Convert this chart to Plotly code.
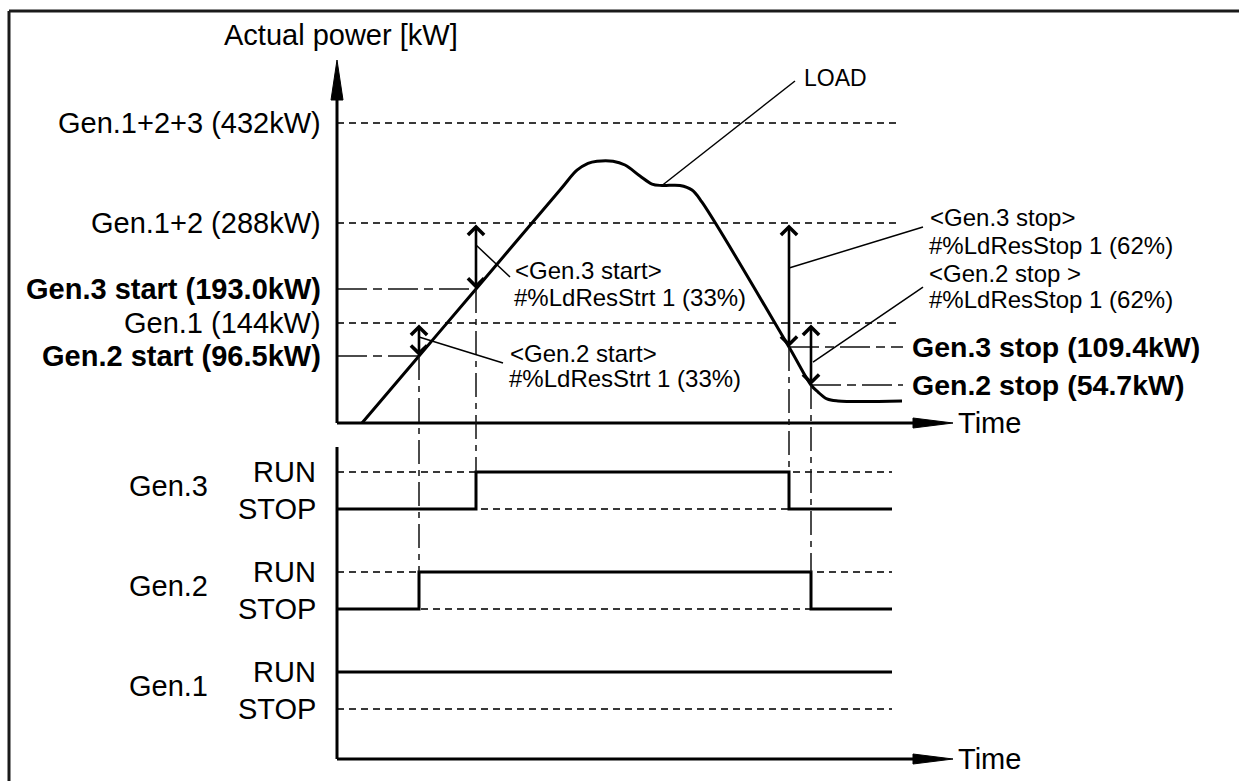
import numpy as np
import plotly.graph_objects as go

# ---------------- data ----------------
# Load profile (time in arbitrary units, power in kW)
load_t = [2.5, 8.2, 13.9, 22.3, 24.0, 25.1, 26.0, 27.6, 28.8, 30.3, 31.5, 32.5,
          34.3, 35.5, 36.5, 45.2, 47.4, 48.1, 49.0, 50.1, 56.5]
load_kw = [0, 96.5, 193.0, 335.5, 364, 374, 377, 377, 371.5, 355.7, 344, 342,
           342, 335.5, 318, 109.4, 54.7, 44.6, 34.6, 31.7, 31.7]

# Nominal capacity of the running set
capacity_kw = [144, 288, 432]
capacity_labels = ["Gen.1 (144kW)", "Gen.1+2 (288kW)", "Gen.1+2+3 (432kW)"]

# Start / stop thresholds
start_kw = [96.5, 193.0]            # Gen.2, Gen.3
start_labels = ["Gen.2 start (96.5kW)", "Gen.3 start (193.0kW)"]
stop_kw = [109.4, 54.7]             # Gen.3, Gen.2
stop_labels = ["Gen.3 stop (109.4kW)", "Gen.2 stop (54.7kW)"]

gen_names = ["Gen.1", "Gen.2", "Gen.3"]
state_labels = ["RUN", "STOP"]

T_END = 55.5      # end of the status / reference lines
T_TIP = 61.6      # tip of the time arrows

# ---------------- geometry ----------------
W, H = 1239, 781
X0_PX, PX_PER_T = 337, 10.0
Y0_PX, PX_PER_KW = 423, 100.0 / 144.0
Y2_0_PX, PX_PER_ROW = 759, 100.0

x_range = [(0 - X0_PX) / PX_PER_T, (W - X0_PX) / PX_PER_T]
y_range = [(Y0_PX - H) / PX_PER_KW, Y0_PX / PX_PER_KW]
y2_range = [(Y2_0_PX - H) / PX_PER_ROW, Y2_0_PX / PX_PER_ROW]

ROW_BASE = {"Gen.1": 0.5, "Gen.2": 1.5, "Gen.3": 2.5}
RUN_H = 0.37
LOWER_AXIS_TOP = 3.12
P_TIP = (Y0_PX - 60) / PX_PER_KW

FONT = "Liberation Sans, Arial, sans-serif"
BIG = 29
MID = 24


def kw_to_paper(p):
    return (p - y_range[0]) / (y_range[1] - y_range[0])


def row_to_paper(v):
    return (v - y2_range[0]) / (y2_range[1] - y2_range[0])


# ---------------- switching events from the load profile ----------------
peak = int(np.argmax(load_kw))
rise_t, rise_kw = load_t[:peak + 1], load_kw[:peak + 1]
fall_t, fall_kw = load_t[peak:], load_kw[peak:]


def t_rise(p):
    return float(np.interp(p, rise_kw, rise_t))


def t_fall(p):
    return float(np.interp(p, fall_kw[::-1], fall_t[::-1]))


t2_on, t3_on = t_rise(start_kw[0]), t_rise(start_kw[1])
t3_off, t2_off = t_fall(stop_kw[0]), t_fall(stop_kw[1])

status = {
    "Gen.1": ([0, T_END], [1, 1]),
    "Gen.2": ([0, t2_on, t2_off, T_END], [0, 1, 0, 0]),
    "Gen.3": ([0, t3_on, t3_off, T_END], [0, 1, 0, 0]),
}

fig = go.Figure()

GRAY_DASH = dict(color="#383838", width=1.8, dash="7px,5px")
DASH_DOT = dict(color="#111111", width=1.5, dash="30px,6px,9px,6px")

# capacity reference lines
for c in capacity_kw:
    fig.add_trace(go.Scatter(x=[0, T_END + 0.4], y=[c, c], mode="lines", line=GRAY_DASH,
                             hoverinfo="skip"))

# RUN / STOP reference levels
for g in gen_names:
    for lvl in (ROW_BASE[g], ROW_BASE[g] + RUN_H):
        fig.add_trace(go.Scatter(x=[0, T_END], y=[lvl, lvl], yaxis="y2", mode="lines",
                                 line=GRAY_DASH, hoverinfo="skip"))

# start / stop threshold lines
fig.add_trace(go.Scatter(x=[0, t2_on], y=[start_kw[0]] * 2, mode="lines", line=DASH_DOT))
fig.add_trace(go.Scatter(x=[0, t3_on], y=[start_kw[1]] * 2, mode="lines", line=DASH_DOT))
fig.add_trace(go.Scatter(x=[t3_off, 56.6], y=[stop_kw[0]] * 2, mode="lines", line=DASH_DOT))
fig.add_trace(go.Scatter(x=[t2_off, 56.6], y=[stop_kw[1]] * 2, mode="lines", line=DASH_DOT))

# load curve
fig.add_trace(go.Scatter(x=load_t, y=load_kw, mode="lines",
                         line=dict(color="black", width=3, shape="spline", smoothing=1.0)))

# generator status
for g in gen_names:
    ts, st = status[g]
    fig.add_trace(go.Scatter(x=ts, y=[ROW_BASE[g] + RUN_H * s for s in st], yaxis="y2",
                             mode="lines", line=dict(color="black", width=3, shape="hv")))

shapes = []
# frame (top and left edges)
FRAME = dict(color="#1a1a1a", width=3)
shapes.append(dict(type="line", xref="paper", yref="paper", x0=9 / W, x1=1.0,
                   y0=1 - 11 / H, y1=1 - 11 / H, line=FRAME))
shapes.append(dict(type="line", xref="paper", yref="paper", x0=9 / W, x1=9 / W,
                   y0=0.0, y1=1 - 11 / H, line=FRAME))

# power axis with arrow
head_kw = 40 / PX_PER_KW
shapes.append(dict(type="line", xref="x", yref="y", x0=0, x1=0, y0=0, y1=P_TIP - head_kw + 2,
                   line=dict(color="black", width=3)))
shapes.append(dict(type="path", xref="x", yref="y",
                   path=f"M {-0.6},{P_TIP - head_kw} L 0,{P_TIP} L {0.6},{P_TIP - head_kw} Z",
                   fillcolor="black", line=dict(color="black", width=1)))

# time axes with arrows
head_t = 4.0
for yref, y0, hw in (("y", 0, 5 / PX_PER_KW), ("y2", 0, 5 / PX_PER_ROW)):
    shapes.append(dict(type="line", xref="x", yref=yref, x0=0, x1=T_TIP - head_t + 0.2,
                       y0=y0, y1=y0, line=dict(color="black", width=3)))
    shapes.append(dict(type="path", xref="x", yref=yref,
                       path=f"M {T_TIP - head_t},{y0 - hw} L {T_TIP},{y0} L {T_TIP - head_t},{y0 + hw} Z",
                       fillcolor="black", line=dict(color="black", width=1)))

# status axis
shapes.append(dict(type="line", xref="x", yref="y2", x0=0, x1=0, y0=0, y1=LOWER_AXIS_TOP,
                   line=dict(color="black", width=3)))

# event connectors
for t, p, g in ((t2_on, start_kw[0], "Gen.2"), (t3_on, start_kw[1], "Gen.3"),
                (t3_off, stop_kw[0], "Gen.3"), (t2_off, stop_kw[1], "Gen.2")):
    shapes.append(dict(type="line", xref="x", yref="paper", x0=t, x1=t,
                       y0=kw_to_paper(p), y1=row_to_paper(ROW_BASE[g] + RUN_H),
                       line=dict(color="#111111", width=1.5, dash="24px,6px,6px,6px")))

# leader lines
LEADER = dict(color="black", width=1.5)
leaders = [
    ((load_t[11], load_kw[11]), (45.8, 492.5)),
    ((t3_on, 256.3), (17.3, 210.2)),
    ((t2_on, 123.8), (16.6, 86.4)),
    ((t3_off, 223.2), (58.6, 282.2)),
    ((t2_off + 0.2, 87.8), (58.6, 195.8)),
]
for (xa, ya), (xb, yb) in leaders:
    shapes.append(dict(type="line", xref="x", yref="y", x0=xa, y0=ya, x1=xb, y1=yb,
                       line=LEADER))

annotations = []

# double-headed margin arrows
for t, p_hi, p_lo in ((t2_on, capacity_kw[0], start_kw[0]),
                      (t3_on, capacity_kw[1], start_kw[1]),
                      (t3_off, capacity_kw[1], stop_kw[0]),
                      (t2_off, capacity_kw[0], stop_kw[1])):
    annotations.append(dict(x=t, y=p_lo, ax=t, ay=p_hi, xref="x", yref="y", axref="x",
                            ayref="y", text="", showarrow=True, arrowhead=4,
                            startarrowhead=4, arrowside="end+start", arrowsize=1.2,
                            startarrowsize=1.2, arrowwidth=2.6, arrowcolor="black",
                            standoff=0, startstandoff=0, font=dict(size=1)))


def label(x, y, text, size=BIG, xanchor="left", yref="y", bold=False):
    if bold:
        text = f"<b>{text}</b>"
    annotations.append(dict(x=x, y=y, xref="x", yref=yref, text=text, showarrow=False,
                            xanchor=xanchor, yanchor="middle",
                            font=dict(family=FONT, size=size, color="black")))


for c, lab in zip(capacity_kw, capacity_labels):
    label(-1.4, c, lab, xanchor="right")
for s, lab in zip(start_kw, start_labels):
    label(-1.4, s, lab, xanchor="right", bold=True)
for s, lab in zip(stop_kw, stop_labels):
    label(57.3, s, lab, size=28.5, bold=True)

label(-11.5, 558.7, "Actual power [kW]")
label(46.5, 496.8, "LOAD", size=23)
label(61.9, 0, "Time")
label(61.9, 0, "Time", yref="y2")

label(17.6, 220.3, "&lt;Gen.3 start&gt;", size=MID)
label(17.5, 181.4, "#%LdResStrt 1 (33%)", size=MID)
label(17.1, 100.8, "&lt;Gen.2 start&gt;", size=MID)
label(17.0, 64.8, "#%LdResStrt 1 (33%)", size=MID)
label(59.1, 296.6, "&lt;Gen.3 stop&gt;", size=MID)
label(59.0, 256.3, "#%LdResStop 1 (62%)", size=MID)
label(59.0, 215.0, "&lt;Gen.2 stop &gt;", size=MID)
label(59.0, 178.0, "#%LdResStop 1 (62%)", size=MID)

for g in gen_names:
    label(-21.0, ROW_BASE[g] + 0.23, g, yref="y2")
    label(-1.9, ROW_BASE[g] + RUN_H, state_labels[0], xanchor="right", yref="y2")
    label(-1.9, ROW_BASE[g], state_labels[1], xanchor="right", yref="y2")

fig.update_layout(
    width=W, height=H, margin=dict(l=0, r=0, t=0, b=0, pad=0),
    paper_bgcolor="white", plot_bgcolor="white", showlegend=False,
    font=dict(family=FONT, color="black"),
    xaxis=dict(range=x_range, visible=False, fixedrange=True),
    yaxis=dict(range=y_range, visible=False, fixedrange=True),
    yaxis2=dict(range=y2_range, overlaying="y", visible=False, fixedrange=True),
    shapes=shapes, annotations=annotations,
)

fig.write_html("out.html", config={"displayModeBar": False})
